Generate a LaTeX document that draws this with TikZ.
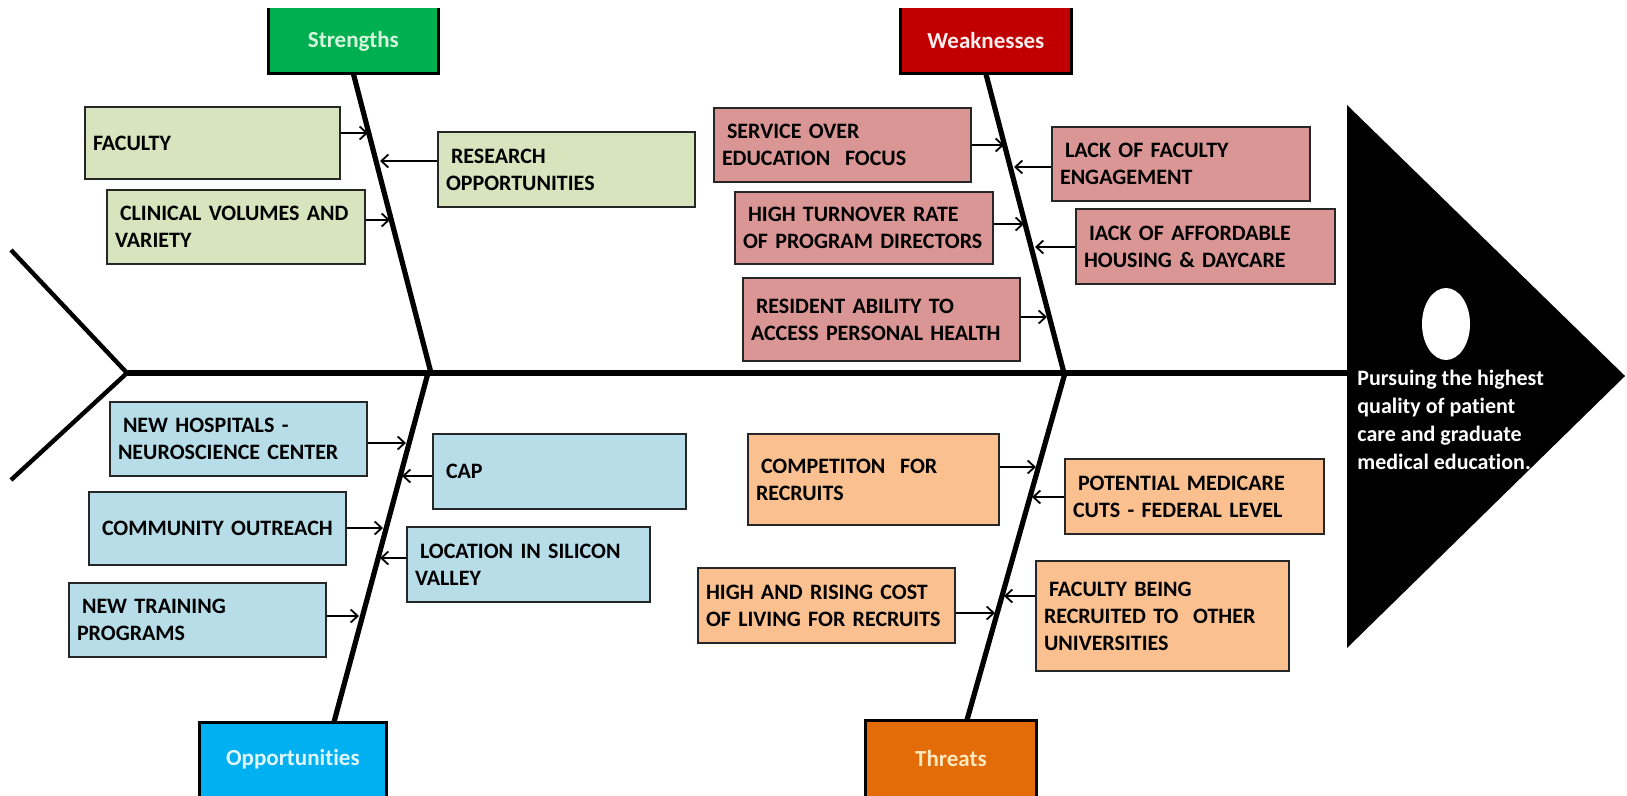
\documentclass[tikz,border=0pt]{standalone}
\usepackage{fontspec}
\setmainfont{Carlito}[Ligatures=NoCommon]
\usetikzlibrary{arrows.meta,shapes.geometric}
\definecolor{sgreen}{RGB}{0,176,80}
\definecolor{wred}{RGB}{192,0,0}
\definecolor{oblue}{RGB}{0,176,240}
\definecolor{torange}{RGB}{227,108,9}
\definecolor{sfill}{RGB}{215,228,189}
\definecolor{wfill}{RGB}{217,150,148}
\definecolor{ofill}{RGB}{183,221,232}
\definecolor{tfill}{RGB}{250,192,144}
\definecolor{stext}{RGB}{215,245,220}
\definecolor{wtext}{RGB}{255,236,236}
\definecolor{otext}{RGB}{225,246,255}
\definecolor{ttext}{RGB}{255,232,190}
\newcommand\mkbox[7]{%
  \pgfmathsetmacro\bw{(#4-#2)*0.5}%
  \pgfmathsetmacro\bh{(#5-#3)*0.5}%
  \pgfmathsetmacro\tw{(#4-#2)*0.5-8}%
  \node[subbox, fill=#6, minimum width=\bw pt, minimum height=\bh pt, text width=\tw pt] (#1) at (#2,#3) {#7};}
\newcommand\ind{\hspace*{2.5pt}}
\tikzset{
  subbox/.style={draw=black!85, line width=1pt, anchor=north west, inner xsep=4pt, inner ysep=0pt, align=left, font=\bfseries\fontsize{11}{13.5}\selectfont},
  catbox/.style={anchor=north west, inner sep=0pt, font=\bfseries\fontsize{11.5}{13}\selectfont},
  catline/.style={line width=1.5pt, black},
  spine/.style={line width=2.6pt, black},
  mainline/.style={line width=3pt, black},
  tailline/.style={line width=2.2pt, black},
  arr/.style={line width=0.9pt, black, -{Straight Barb[length=3.5pt,width=6.5pt]}}
}
\begin{document}
\begin{tikzpicture}[x=0.5pt,y=-0.5pt]
\fill[white] (0,0) rectangle (1627,796);
\useasboundingbox (0,0) rectangle (1627,796);

% head (triangle)
\coordinate (headTop) at (1347,105);
\coordinate (headTip) at (1625,376);
\coordinate (headBot) at (1347,648);
\coordinate (headBase) at (1347,373);
\fill[black] (headTop) -- (headTip) -- (headBot) -- cycle;
\node[ellipse, fill=white, minimum width=24pt, minimum height=36pt, inner sep=0pt] (eye) at (1446,324) {};
\node[anchor=north west, text=white, align=left, inner sep=0pt, font=\bfseries\fontsize{11}{14}\selectfont] (goal) at (1357,370) {Pursuing the highest\\quality of patient\\care and graduate\\medical education.};

% tail and main spine
\coordinate (tail) at (127,373);
\coordinate (tailA) at (11,250);
\coordinate (tailB) at (11,480);
\draw[tailline] (tailA) -- (tail) -- (tailB);
\draw[mainline] (tail) -- (headBase);

% category boxes
\node[catbox, fill=sgreen, text=stext, minimum width=85pt, minimum height=32.5pt] (sCat) at (268,8) {Strengths};
\draw[catline] (sCat.north west) -- (sCat.south west) -- (sCat.south east) -- (sCat.north east);
\node[catbox, fill=wred, text=wtext, minimum width=85.5pt, minimum height=32.5pt] (wCat) at (900,8) {Weaknesses};
\draw[catline] (wCat.north west) -- (wCat.south west) -- (wCat.south east) -- (wCat.north east);
\node[catbox, fill=oblue, text=otext, minimum width=93.5pt, minimum height=37pt] (oCat) at (199,722) {Opportunities};
\draw[catline] (oCat.south west) -- (oCat.north west) -- (oCat.north east) -- (oCat.south east);
\node[catbox, fill=torange, text=ttext, minimum width=85.5pt, minimum height=38pt] (tCat) at (865,720) {Threats};
\draw[catline] (tCat.south west) -- (tCat.north west) -- (tCat.north east) -- (tCat.south east);

% spines
\coordinate (sJ) at (431,373);
\coordinate (wJ) at (1064,373);
\coordinate (oJ) at (428,373);
\coordinate (tJ) at (1065,373);
\coordinate (oTop) at (334,722);
\coordinate (tTop) at (967,720);
\draw[spine] (sCat.south) -- (sJ);
\draw[spine] (wCat.south) -- (wJ);
\draw[spine] (oJ) -- (oTop);
\draw[spine] (tJ) -- (tTop);

% strengths
\mkbox{sFac}{84}{106}{339}{178}{sfill}{FACULTY}
\mkbox{sRes}{437}{131}{694}{206}{sfill}{\ind RESEARCH\\OPPORTUNITIES}
\mkbox{sCli}{106}{189}{364}{263}{sfill}{\ind CLINICAL VOLUMES AND\\VARIETY}
% weaknesses
\mkbox{wSer}{713}{107}{970}{181}{wfill}{\ind SERVICE OVER\\EDUCATION\ \ FOCUS}
\mkbox{wLac}{1051}{126}{1309}{200}{wfill}{\ind LACK OF FACULTY\\ENGAGEMENT}
\mkbox{wHig}{734}{191}{992}{263}{wfill}{\ind HIGH TURNOVER RATE\\OF PROGRAM DIRECTORS}
\mkbox{wIac}{1075}{208}{1334}{283}{wfill}{\ind IACK OF AFFORDABLE\\HOUSING \& DAYCARE}
\mkbox{wRes}{742}{277}{1019}{360}{wfill}{\ind RESIDENT ABILITY TO\\ACCESS PERSONAL HEALTH}
% opportunities
\mkbox{oNew}{109}{401}{366}{475}{ofill}{\ind NEW HOSPITALS -\\NEUROSCIENCE CENTER}
\mkbox{oCap}{432}{433}{685}{508}{ofill}{\ind CAP}
\mkbox{oCom}{88}{491}{345}{564}{ofill}{\ind COMMUNITY OUTREACH}
\mkbox{oLoc}{406}{526}{649}{601}{ofill}{\ind LOCATION IN SILICON\\VALLEY}
\mkbox{oTrn}{68}{582}{325}{656}{ofill}{\ind NEW TRAINING\\PROGRAMS}
% threats
\mkbox{tCom}{747}{433}{998}{524}{tfill}{\ind COMPETITON\ \ FOR\\RECRUITS}
\mkbox{tPot}{1064}{458}{1323}{533}{tfill}{\ind POTENTIAL MEDICARE\\CUTS - FEDERAL LEVEL}
\mkbox{tHig}{697}{567}{954}{642}{tfill}{HIGH AND RISING COST\\OF LIVING FOR RECRUITS}
\mkbox{tFac}{1035}{560}{1288}{670}{tfill}{\ind FACULTY BEING\\RECRUITED TO\ \ OTHER\\UNIVERSITIES}

% arrow targets on spines
\coordinate (aFac) at (368,133);
\coordinate (aRes) at (380,161);
\coordinate (aCli) at (390,220);
\coordinate (aSer) at (1004,145);
\coordinate (aLac) at (1014,167);
\coordinate (aHig) at (1024,224);
\coordinate (aIac) at (1035,247);
\coordinate (aWRes) at (1047,317);
\coordinate (aNew) at (406,443);
\coordinate (aCap) at (402,476);
\coordinate (aCom) at (383,528);
\coordinate (aLoc) at (380,558);
\coordinate (aTrn) at (359,616);
\coordinate (aTCom) at (1036,467);
\coordinate (aPot) at (1032,497);
\coordinate (aTHig) at (995,613);
\coordinate (aTFac) at (1004,596);

\draw[arr] (sFac.east |- aFac) -- (aFac);
\draw[arr] (sRes.west |- aRes) -- (aRes);
\draw[arr] (sCli.east |- aCli) -- (aCli);
\draw[arr] (wSer.east |- aSer) -- (aSer);
\draw[arr] (wLac.west |- aLac) -- (aLac);
\draw[arr] (wHig.east |- aHig) -- (aHig);
\draw[arr] (wIac.west |- aIac) -- (aIac);
\draw[arr] (wRes.east |- aWRes) -- (aWRes);
\draw[arr] (oNew.east |- aNew) -- (aNew);
\draw[arr] (oCap.west |- aCap) -- (aCap);
\draw[arr] (oCom.east |- aCom) -- (aCom);
\draw[arr] (oLoc.west |- aLoc) -- (aLoc);
\draw[arr] (oTrn.east |- aTrn) -- (aTrn);
\draw[arr] (tCom.east |- aTCom) -- (aTCom);
\draw[arr] (tPot.west |- aPot) -- (aPot);
\draw[arr] (tHig.east |- aTHig) -- (aTHig);
\draw[arr] (tFac.west |- aTFac) -- (aTFac);
\end{tikzpicture}
\end{document}
